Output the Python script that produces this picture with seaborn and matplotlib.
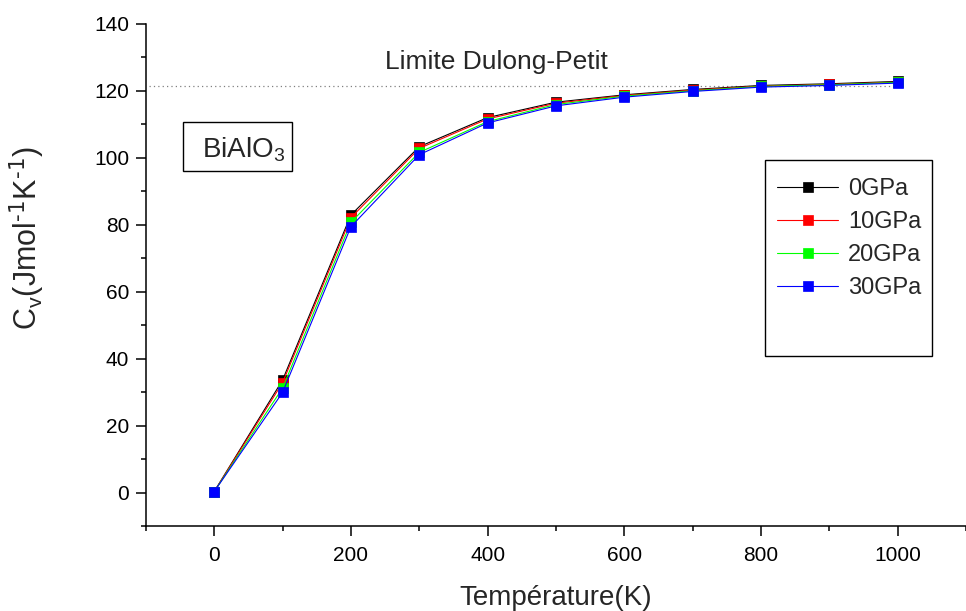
import matplotlib
matplotlib.use("Agg")
import matplotlib.pyplot as plt
from matplotlib.patches import Rectangle
from matplotlib.ticker import MultipleLocator, AutoMinorLocator
import seaborn as sns
import pandas as pd

# Heat capacity at constant volume of BiAlO3 versus temperature, for several pressures
temperature = [0, 100, 200, 300, 400, 500, 600, 700, 800, 900, 1000]
pressures = ["0GPa", "10GPa", "20GPa", "30GPa"]
cv_0gpa = [0.3, 33.6, 82.9, 103.3, 112.0, 116.6, 118.8, 120.4, 121.6, 122.1, 122.8]
cv_10gpa = [0.3, 32.8, 82.1, 102.8, 111.6, 116.3, 118.6, 120.2, 121.4, 121.9, 122.6]
cv_20gpa = [0.3, 31.2, 80.7, 101.6, 110.8, 115.9, 118.4, 120.0, 121.3, 121.8, 122.5]
cv_30gpa = [0.3, 29.9, 79.4, 100.9, 110.4, 115.5, 118.1, 119.8, 121.1, 121.6, 122.3]
dulong_petit = 121.5
series_colors = ["#000000", "#ff0000", "#00ff00", "#0000ff"]

frames = []
for label, values in zip(pressures, [cv_0gpa, cv_10gpa, cv_20gpa, cv_30gpa]):
    frames.append(pd.DataFrame({"T": temperature, "Cv": values, "P": label}))
df = pd.concat(frames, ignore_index=True)

sns.set_style("ticks")
plt.rcParams["font.family"] = ["Liberation Sans", "DejaVu Sans"]
plt.rcParams["mathtext.default"] = "regular"

fig = plt.figure(figsize=(9.66, 6.11), dpi=100)
ax = fig.add_axes([0.151, 0.139, 0.849, 0.822])

# Dulong-Petit limit
ax.hlines(dulong_petit, -95, 1000, colors="#808080", linestyles=(0, (1, 2.5)), linewidth=0.9)

sns.lineplot(data=df, x="T", y="Cv", hue="P", hue_order=pressures,
             palette=series_colors, marker="s", markersize=7.5,
             linewidth=0.8, legend=False, ax=ax)
series_lines = list(ax.lines)
for line in series_lines:
    line.set_markeredgecolor(line.get_color())
    line.set_markeredgewidth(0.5)

ax.set_xlim(-100, 1100)
ax.set_ylim(-10, 140)
ax.xaxis.set_major_locator(MultipleLocator(200))
ax.xaxis.set_minor_locator(AutoMinorLocator(2))
ax.yaxis.set_major_locator(MultipleLocator(20))
ax.yaxis.set_minor_locator(AutoMinorLocator(2))
ax.tick_params(which="major", direction="out", length=7, width=1.1, labelsize=15, colors="black")
ax.tick_params(axis="x", which="major", pad=7)
ax.tick_params(axis="y", which="major", pad=5)
ax.tick_params(which="minor", direction="out", length=3.8, width=1.1, colors="black")
for side in ("left", "bottom"):
    ax.spines[side].set_linewidth(1.1)
    ax.spines[side].set_color("black")
sns.despine(ax=ax)

ax.set_xlabel("Température(K)", fontsize=20)
ax.set_ylabel(r"C$_v$(Jmol$^{\text{-1}}$K$^{\text{-1}}$)", fontsize=22)
ax.xaxis.set_label_coords(0.5, -0.1175)
ax.yaxis.set_label_coords(-0.121, 0.574)

ax.text(413, 126.4, "Limite Dulong-Petit", fontsize=19, ha="center", va="baseline")

# Compound name in a framed box
ax.add_patch(Rectangle((0.045, 0.707), 0.133, 0.0976, transform=ax.transAxes,
                       fill=False, edgecolor="black", linewidth=1.0))
ax.text(0.068, 0.733, "BiAlO$_3$", fontsize=20, transform=ax.transAxes,
        ha="left", va="baseline")

# Legend with its own frame
ax.add_patch(Rectangle((0.755, 0.339), 0.204, 0.390, transform=ax.transAxes,
                       fill=False, edgecolor="black", linewidth=1.0))
ax.legend(handles=series_lines, labels=pressures, loc="upper left",
          bbox_to_anchor=(0.7695, 0.693), frameon=False, fontsize=17,
          handlelength=2.6, handletextpad=0.4, labelspacing=0.47, borderpad=0,
          borderaxespad=0)

fig.savefig("out.png", dpi=100)
